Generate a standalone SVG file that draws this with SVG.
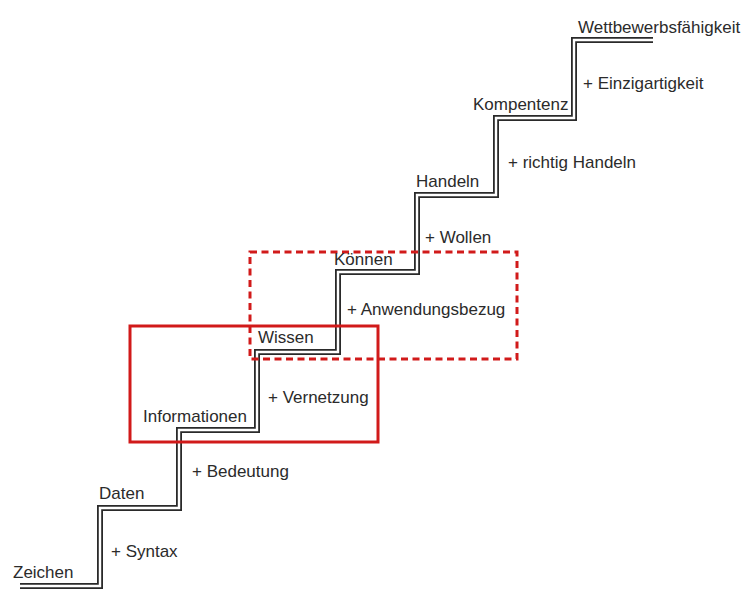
<svg xmlns="http://www.w3.org/2000/svg" width="743" height="595" viewBox="0 0 743 595">
  <style>
    .stair-outer { fill: none; stroke: #2a2a2a; stroke-width: 6; stroke-linejoin: miter; stroke-linecap: butt; }
    .stair-inner { fill: none; stroke: #ffffff; stroke-width: 2.4; stroke-linejoin: miter; stroke-linecap: butt; }
    .label { font-family: "Liberation Sans", Arial, sans-serif; font-size: 17px; fill: #2b2b2b; }
    .frame { fill: none; stroke: #d11a1a; stroke-width: 3; }
    .frame-dashed { fill: none; stroke: #d11a1a; stroke-width: 3; stroke-dasharray: 7 4.5; }
  </style>
  <defs>
    <polyline id="stairPath" points="20,586 100,586 100,508 179,508 179,430 257,430 257,352 338,352 338,272 417,272 417,195 496,195 496,118 574,118 574,40 653,40"/>
  </defs>
  <rect width="743" height="595" fill="#ffffff"/>

  <!-- staircase drawn as a double line -->
  <g id="connectors">
    <use href="#stairPath" class="stair-outer"/>
    <use href="#stairPath" class="stair-inner"/>
  </g>

  <!-- highlight frames -->
  <g id="frame-knowledge">
    <rect class="frame" x="130" y="326" width="248" height="116"/>
  </g>
  <g id="frame-ability">
    <rect class="frame-dashed" x="250" y="252" width="267" height="107"/>
  </g>

  <!-- step labels -->
  <g id="step-zeichen"><text class="label" x="13" y="578">Zeichen</text></g>
  <g id="step-daten"><text class="label" x="99" y="499">Daten</text></g>
  <g id="step-informationen"><text class="label" x="143" y="422">Informationen</text></g>
  <g id="step-wissen"><text class="label" x="258" y="343">Wissen</text></g>
  <g id="step-koennen"><text class="label" x="334" y="265">Können</text></g>
  <g id="step-handeln"><text class="label" x="416" y="187">Handeln</text></g>
  <g id="step-kompetenz"><text class="label" x="473" y="110">Kompentenz</text></g>
  <g id="step-wettbewerb"><text class="label" x="578" y="33">Wettbewerbsfähigkeit</text></g>

  <!-- riser labels -->
  <g id="add-syntax"><text class="label" x="111" y="557">+ Syntax</text></g>
  <g id="add-bedeutung"><text class="label" x="192" y="477">+ Bedeutung</text></g>
  <g id="add-vernetzung"><text class="label" x="268" y="403">+ Vernetzung</text></g>
  <g id="add-anwendung"><text class="label" x="347" y="315">+ Anwendungsbezug</text></g>
  <g id="add-wollen"><text class="label" x="425" y="243">+ Wollen</text></g>
  <g id="add-handeln"><text class="label" x="508" y="168">+ richtig Handeln</text></g>
  <g id="add-einzigartigkeit"><text class="label" x="583" y="89">+ Einzigartigkeit</text></g>
</svg>
